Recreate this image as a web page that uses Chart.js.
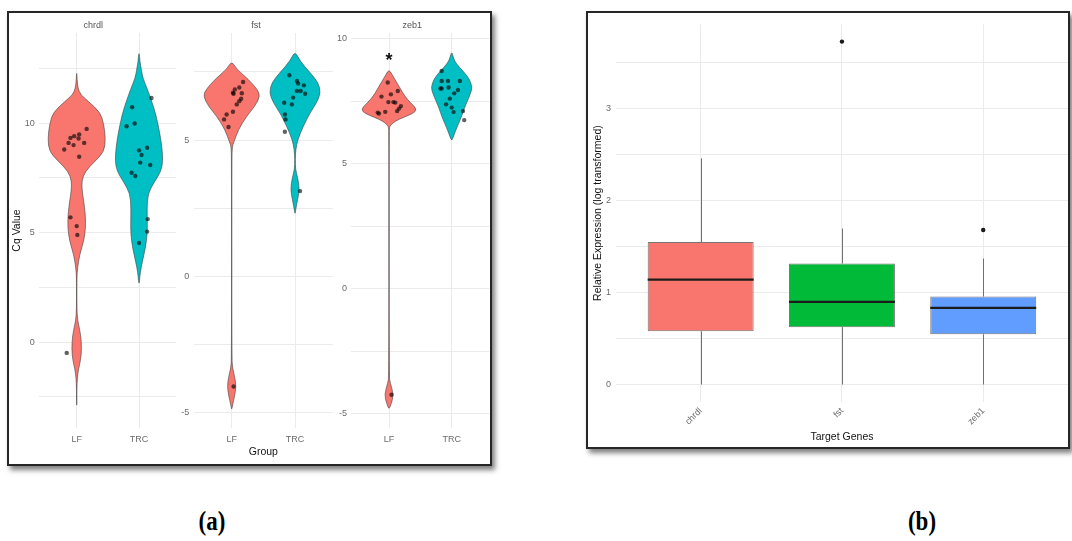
<!DOCTYPE html>
<html>
<head>
<meta charset="utf-8">
<script src="https://cdn.jsdelivr.net/npm/chart.js@4.4.1/dist/chart.umd.min.js"></script>
<style>
  html, body { margin: 0; padding: 0; background: #fff; }
  body { width: 1072px; height: 541px; position: relative; overflow: hidden; font-family: "Liberation Sans", Arial, sans-serif; }
  .frame { position: absolute; box-sizing: border-box; border: 2px solid #262626; background: #fff; box-shadow: 3px 4px 5px rgba(0,0,0,0.5); }
  canvas { position: absolute; }
  .tag { position: absolute; top: 506px; width: 60px; text-align: center; font: bold 27px "Liberation Serif", "Times New Roman", serif; color: #000; transform: scaleX(0.85); }
</style>
</head>
<body>
<div class="frame" style="left:7px;top:11px;width:485px;height:455px"></div>
<div class="frame" style="left:586px;top:11px;width:484px;height:438px"></div>
<canvas id="f0"></canvas>
<canvas id="f1"></canvas>
<canvas id="f2"></canvas>
<canvas id="box"></canvas>
<div class="tag" style="left:182px">(a)</div>
<div class="tag" style="left:892px">(b)</div>

<script>
// ---------- (a) Cq values by gene and group ----------
const groups = ['LF', 'TRC'];
const genes = ['chrdl', 'fst', 'zeb1'];

const chrdlLF    = [9.74, 9.49, 9.41, 9.33, 9.30, 9.10, 9.00, 9.10, 8.80, 8.47, 5.70, 5.30, 4.90, -0.49];
const chrdlLFJit = [0.16, 0.04, -0.04, -0.10, 0.03, -0.13, -0.05, 0.12, -0.20, 0.04, -0.10, 0.00, 0.01, -0.16];
const chrdlTRC    = [11.15, 10.73, 9.99, 9.86, 8.88, 8.76, 8.55, 8.09, 8.20, 7.74, 7.59, 5.62, 5.05, 4.53];
const chrdlTRCJit = [0.20, -0.11, -0.07, -0.20, 0.13, 0.00, 0.04, 0.18, 0.02, -0.12, -0.06, 0.14, 0.13, 0.00];

const fstLF    = [7.13, 6.93, 6.86, 6.74, 6.70, 6.72, 6.52, 6.43, 6.31, 6.04, 5.94, 5.76, 5.48, -4.04];
const fstLFJit = [0.18, 0.12, 0.05, 0.02, 0.03, 0.16, 0.15, 0.12, 0.08, 0.02, -0.08, -0.12, -0.05, 0.03];
const fstTRC    = [7.38, 7.17, 7.08, 7.01, 6.80, 6.80, 6.70, 6.56, 6.37, 6.31, 5.94, 5.76, 5.31, 3.13];
const fstTRCJit = [-0.09, 0.03, 0.05, 0.14, 0.03, 0.09, 0.16, -0.03, -0.17, -0.05, -0.16, -0.15, -0.16, 0.08];

const zeb1LF    = [8.24, 7.68, 7.77, 7.90, 7.46, 7.46, 7.44, 7.30, 7.20, 7.10, 7.07, 7.04, 7.00, -4.23];
const zeb1LFJit = [-0.02, -0.12, 0.03, 0.14, -0.01, 0.07, 0.10, 0.19, 0.16, 0.13, -0.06, -0.18, -0.16, 0.04];
const zeb1TRC    = [8.70, 8.30, 8.30, 8.30, 8.00, 8.00, 8.04, 7.94, 7.81, 7.60, 7.37, 7.24, 7.06, 7.10, 6.74];
const zeb1TRCJit = [-0.16, -0.16, -0.06, 0.13, -0.16, -0.18, -0.05, 0.10, 0.04, -0.03, -0.09, 0.00, 0.03, 0.18, 0.20];

// violin outlines: [Cq level, half width in group units]
const chrdlLFViolin = [[12.36,0],[12.0,0.006],[11.6,0.02],[11.3,0.064],[11.0,0.187],[10.5,0.376],[10.0,0.432],[9.3,0.464],[8.7,0.44],[8.27,0.296],[7.8,0.136],[7.36,0.08],[6.9,0.088],[6.45,0.112],[5.86,0.139],[5.2,0.144],[4.6,0.112],[4.0,0.048],[3.4,0.014],[3.0,0.004],[2.0,0.002],[1.2,0.006],[0.8,0.03],[0.3,0.067],[-0.3,0.08],[-0.8,0.064],[-1.2,0.032],[-1.6,0.01],[-2.2,0.002],[-3.1,0]];
const chrdlTRCViolin = [[13.3,0],[12.8,0.016],[12.4,0.04],[12.05,0.064],[11.6,0.128],[11.1,0.192],[10.4,0.272],[9.5,0.336],[8.9,0.368],[8.27,0.384],[7.8,0.352],[7.36,0.256],[6.8,0.144],[6.1,0.128],[5.2,0.136],[4.6,0.12],[4.0,0.08],[3.4,0.032],[3.0,0.014],[2.6,0]];
const fstLFViolin = [[7.9,0],[7.6,0.079],[7.23,0.264],[6.86,0.406],[6.62,0.449],[6.25,0.37],[5.88,0.237],[5.39,0.106],[4.9,0.03],[4.78,0.01],[4.3,0.002],[-3.0,0.002],[-3.36,0.014],[-3.7,0.05],[-4.04,0.07],[-4.4,0.045],[-4.72,0.014],[-4.9,0]];
const fstTRCViolin = [[8.27,0],[7.9,0.079],[7.48,0.237],[7.11,0.368],[6.74,0.406],[6.37,0.343],[6.0,0.237],[5.51,0.131],[5.03,0.045],[4.66,0.012],[4.3,0.003],[3.92,0.008],[3.6,0.045],[3.19,0.071],[2.8,0.04],[2.5,0.014],[2.26,0]];
const zeb1LFViolin = [[8.77,0],[8.55,0.05],[8.3,0.11],[8.0,0.18],[7.7,0.25],[7.44,0.34],[7.17,0.45],[7.0,0.38],[6.85,0.23],[6.7,0.1],[6.55,0.028],[6.45,0.008],[6.3,0.002],[-3.5,0.002],[-3.75,0.018],[-4.23,0.075],[-4.6,0.035],[-4.83,0]];
const zeb1TRCViolin = [[9.5,0],[9.2,0.03],[9.0,0.07],[8.7,0.18],[8.4,0.28],[8.05,0.33],[7.8,0.3],[7.5,0.25],[7.2,0.2],[6.9,0.16],[6.6,0.11],[6.3,0.06],[6.1,0.03],[5.9,0]];

// y axis per facet: limits, grid levels, labelled levels
const chrdlRange = [-3.92, 14.12];
const fstRange = [-5.56, 8.93];
const zeb1Range = [-5.56, 10.22];
const chrdlGrid = [-2.5, 0, 2.5, 5, 7.5, 10, 12.5];
const fstGrid = [-5, -2.5, 0, 2.5, 5, 7.5];
const zeb1Grid = [-5, -2.5, 0, 2.5, 5, 7.5, 10];
const chrdlTicks = [0, 5, 10];
const fstTicks = [-5, 0, 5];
const zeb1Ticks = [-5, 0, 5, 10];

// significance mark: [gene, group, level, text]
const sigMarks = [['zeb1', 'LF', 9.3, '*']];

// ---------- (b) relative expression box plot ----------
const boxGenes = ['chrdl', 'fst', 'zeb1'];
const boxLow = [0.0, 0.0, 0.0];
const boxQ1 = [0.578, 0.623, 0.546];
const boxMedian = [1.14, 0.898, 0.834];
const boxQ3 = [1.55, 1.317, 0.958];
const boxHigh = [2.46, 1.697, 1.37];
const outlierGene = ['fst', 'zeb1'];
const outlierValue = [3.73, 1.68];
const exprRange = [-0.187, 3.917];
const exprGrid = [0, 0.5, 1, 1.5, 2, 2.5, 3, 3.5];
const exprTicks = [0, 1, 2, 3];

const groupColors = ['#F8766D', '#00BFC4'];
const geneColors = ['#F8766D', '#00BA38', '#619CFF'];
const GRID = '#ebebeb';
const TICK = '#6a6a6a';
const SANS = '"Liberation Sans", Arial, sans-serif';

Chart.defaults.font.family = SANS;

function smoothClosed(ctx, p) {
  const n = p.length;
  const mid = (a, b) => [(a[0] + b[0]) / 2, (a[1] + b[1]) / 2];
  const m0 = mid(p[n - 1], p[0]);
  ctx.moveTo(m0[0], m0[1]);
  for (let i = 0; i < n; i++) {
    const c = p[i], m = mid(c, p[(i + 1) % n]);
    ctx.quadraticCurveTo(c[0], c[1], m[0], m[1]);
  }
  ctx.closePath();
}

function violinPlugin(shapes) {
  return {
    id: 'violins',
    beforeDatasetsDraw(chart) {
      const { ctx, scales: { x, y } } = chart;
      shapes.forEach(s => {
        const right = s.profile.map(([v, w]) => [x.getPixelForValue(s.pos + w), y.getPixelForValue(v)]);
        const left = s.profile.map(([v, w]) => [x.getPixelForValue(s.pos - w), y.getPixelForValue(v)]).reverse();
        const pts = right.concat(left.slice(1, -1));
        ctx.save();
        ctx.beginPath();
        smoothClosed(ctx, pts);
        ctx.fillStyle = s.color;
        ctx.fill();
        ctx.lineWidth = 0.6;
        ctx.strokeStyle = '#404040';
        ctx.stroke();
        ctx.restore();
      });
    }
  };
}

function marksPlugin(gene) {
  return {
    id: 'marks',
    afterDatasetsDraw(chart) {
      const { ctx, scales: { x, y } } = chart;
      sigMarks.filter(m => m[0] === gene).forEach(([, grp, level, text]) => {
        const size = 18;
        ctx.save();
        ctx.font = 'bold ' + size + 'px ' + SANS;
        ctx.fillStyle = '#111';
        ctx.textAlign = 'center';
        ctx.textBaseline = 'alphabetic';
        ctx.fillText(text, x.getPixelForValue(groups.indexOf(grp) + 1), y.getPixelForValue(level) + size * 0.58);
        ctx.restore();
      });
    }
  };
}

const facetData = {
  chrdl: { vals: [chrdlLF, chrdlTRC], jit: [chrdlLFJit, chrdlTRCJit], violins: [chrdlLFViolin, chrdlTRCViolin], range: chrdlRange, grid: chrdlGrid, ticks: chrdlTicks },
  fst:   { vals: [fstLF, fstTRC], jit: [fstLFJit, fstTRCJit], violins: [fstLFViolin, fstTRCViolin], range: fstRange, grid: fstGrid, ticks: fstTicks },
  zeb1:  { vals: [zeb1LF, zeb1TRC], jit: [zeb1LFJit, zeb1TRCJit], violins: [zeb1LFViolin, zeb1TRCViolin], range: zeb1Range, grid: zeb1Grid, ticks: zeb1Ticks }
};

// facet canvases: canvas left edge, plot area left/right (page px)
const facetBoxes = [
  { left: 10, areaLeft: 39.3, areaRight: 176.4 },
  { left: 179, areaLeft: 193.7, areaRight: 333.0 },
  { left: 335, areaLeft: 351.4, areaRight: 489.3 }
];
const FACET_TOP = 14, FACET_H = 448, AREA_TOP = 33, AREA_BOTTOM = 428;
const STRIP_SIZE = 9;

genes.forEach((gene, k) => {
  const d = facetData[gene];
  const b = facetBoxes[k];
  const cv = document.getElementById('f' + k);
  const w = Math.ceil(b.areaRight) + 1 - b.left;
  cv.width = w; cv.height = FACET_H;
  cv.style.left = b.left + 'px'; cv.style.top = FACET_TOP + 'px';
  cv.style.width = w + 'px'; cv.style.height = FACET_H + 'px';

  const shapes = groups.map((g, i) => ({ pos: i + 1, profile: d.violins[i], color: groupColors[i] }));
  const datasets = groups.map((g, i) => ({
    type: 'scatter',
    label: g,
    data: d.vals[i].map((v, j) => ({ x: i + 1 + d.jit[i][j], y: v })),
    pointRadius: 2.2,
    pointHoverRadius: 2.2,
    pointBackgroundColor: 'rgba(0,0,0,0.62)',
    pointBorderWidth: 0
  }));

  const stripTop = 6.6;
  new Chart(cv, {
    type: 'scatter',
    data: { datasets },
    plugins: [violinPlugin(shapes), marksPlugin(gene)],
    options: {
      responsive: false, animation: false, devicePixelRatio: 1,
      layout: { autoPadding: false, padding: { left: 0, top: 0, bottom: 0, right: w - (b.areaRight - b.left) } },
      plugins: {
        legend: { display: false }, tooltip: { enabled: false },
        title: { display: true, text: gene, color: '#555', font: { size: STRIP_SIZE, weight: 'normal' }, padding: { top: stripTop, bottom: AREA_TOP - FACET_TOP - STRIP_SIZE * 1.2 - stripTop } }
      },
      scales: {
        x: {
          type: 'linear', min: 0.4, max: 2.6,
          afterBuildTicks: s => { s.ticks = groups.map((g, i) => ({ value: i + 1 })); },
          afterFit: s => { s.height = FACET_TOP + FACET_H - AREA_BOTTOM; },
          ticks: { callback: v => groups[v - 1], color: TICK, font: { size: 9 }, padding: 6, maxRotation: 0, autoSkip: false },
          grid: { color: GRID, drawTicks: false },
          border: { display: false },
          title: { display: k === 1, text: 'Group', color: '#111', font: { size: 10.5 }, padding: { top: 0, bottom: 4 } }
        },
        y: {
          type: 'linear', min: d.range[0], max: d.range[1],
          afterBuildTicks: s => { s.ticks = d.grid.map(v => ({ value: v })); },
          afterFit: s => { s.width = b.areaLeft - b.left; },
          ticks: { callback: v => d.ticks.includes(v) ? String(v) : '', color: TICK, font: { size: 9 }, padding: 4.5, autoSkip: false },
          grid: { color: GRID, drawTicks: false },
          border: { display: false },
          title: { display: k === 0, text: 'Cq Value', color: '#111', font: { size: 10.5 }, padding: { top: 1, bottom: 0 } }
        }
      }
    }
  });
});

// ---------- (b) ----------
(function () {
  const cv = document.getElementById('box');
  const left = 589, top = 14, areaLeft = 615.9, areaRight = 1068, areaBottom = 401.7, bottom = 446;
  const w = Math.ceil(areaRight) + 1 - left, h = bottom - top;
  cv.width = w; cv.height = h;
  cv.style.left = left + 'px'; cv.style.top = top + 'px';
  cv.style.width = w + 'px'; cv.style.height = h + 'px';

  const whiskers = {
    id: 'whiskers',
    beforeDatasetsDraw(chart) {
      const { ctx, scales: { x, y } } = chart;
      ctx.save();
      ctx.strokeStyle = '#707070';
      ctx.lineWidth = 1;
      boxGenes.forEach((g, i) => {
        const px = Math.round(x.getPixelForValue(i + 1)) + 0.5;
        ctx.beginPath();
        ctx.moveTo(px, y.getPixelForValue(boxHigh[i]));
        ctx.lineTo(px, y.getPixelForValue(boxQ3[i]));
        ctx.moveTo(px, y.getPixelForValue(boxQ1[i]));
        ctx.lineTo(px, y.getPixelForValue(boxLow[i]));
        ctx.stroke();
      });
      ctx.restore();
    },
    afterDatasetsDraw(chart) {
      const { ctx, scales: { y } } = chart;
      const bars = chart.getDatasetMeta(0).data;
      ctx.save();
      ctx.strokeStyle = '#1c1c1c';
      ctx.lineWidth = 2.2;
      boxGenes.forEach((g, i) => {
        const bar = bars[i];
        const py = y.getPixelForValue(boxMedian[i]);
        ctx.beginPath();
        ctx.moveTo(bar.x - bar.width / 2, py);
        ctx.lineTo(bar.x + bar.width / 2, py);
        ctx.stroke();
      });
      ctx.restore();
    }
  };

  new Chart(cv, {
    type: 'bar',
    data: {
      datasets: [
        {
          type: 'bar',
          label: 'IQR',
          data: boxGenes.map((g, i) => ({ x: i + 1, y: [boxQ1[i], boxQ3[i]] })),
          backgroundColor: geneColors,
          borderColor: 'rgba(45,45,45,0.65)',
          borderWidth: 1,
          borderSkipped: false,
          barPercentage: 0.75,
          categoryPercentage: 1
        },
        {
          type: 'scatter',
          label: 'outliers',
          data: outlierGene.map((g, i) => ({ x: boxGenes.indexOf(g) + 1, y: outlierValue[i] })),
          pointRadius: 2.2,
          pointHoverRadius: 2.2,
          pointBackgroundColor: '#1a1a1a',
          pointBorderWidth: 0
        }
      ]
    },
    plugins: [whiskers],
    options: {
      responsive: false, animation: false, devicePixelRatio: 1,
      layout: { autoPadding: false, padding: { left: 0, top: 0, bottom: 0, right: w - (areaRight - left) } },
      plugins: { legend: { display: false }, tooltip: { enabled: false } },
      scales: {
        x: {
          type: 'linear', min: 0.4, max: 3.6, offset: false,
          afterBuildTicks: s => { s.ticks = boxGenes.map((g, i) => ({ value: i + 1 })); },
          afterFit: s => { s.height = bottom - areaBottom; },
          ticks: { callback: v => boxGenes[v - 1], color: TICK, font: { size: 9 }, padding: 4, minRotation: 45, maxRotation: 45, autoSkip: false },
          grid: { color: GRID, drawTicks: false, offset: false },
          border: { display: false },
          title: { display: true, text: 'Target Genes', color: '#111', font: { size: 10.5 }, padding: { top: 0, bottom: 3 } }
        },
        y: {
          type: 'linear', min: exprRange[0], max: exprRange[1],
          afterBuildTicks: s => { s.ticks = exprGrid.map(v => ({ value: v })); },
          afterFit: s => { s.width = areaLeft - left; },
          ticks: { callback: v => exprTicks.includes(v) ? String(v) : '', color: TICK, font: { size: 9 }, padding: 5, autoSkip: false },
          grid: { color: GRID, drawTicks: false },
          border: { display: false },
          title: { display: true, text: 'Relative Expression (log transformed)', color: '#111', font: { size: 10.5 }, padding: { top: 2.7, bottom: 0 } }
        }
      }
    }
  });
})();
</script>
</body>
</html>
